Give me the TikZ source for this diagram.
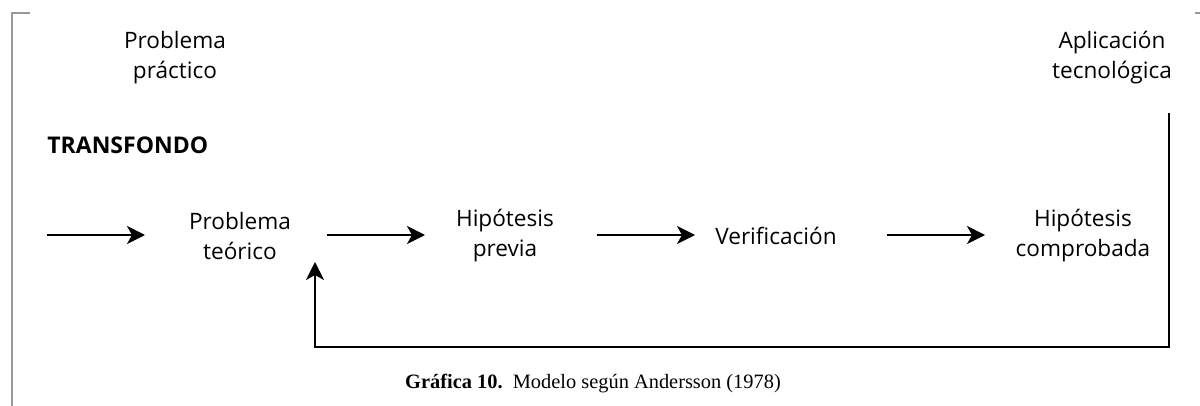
\documentclass[tikz,border=0pt]{standalone}
\usepackage{fontspec}
\setmainfont{Open Sans}
\newfontfamily\capfont{Liberation Serif}
\usetikzlibrary{arrows.meta}
\begin{document}
\begin{tikzpicture}[x=0.5pt,y=-0.5pt,
  lbl/.style={font=\fontsize{11.3}{15}\selectfont, align=center, inner sep=0pt},
  arr/.style={line width=1pt, -{Stealth[length=9pt,width=9pt,inset=2.5pt]}},
  frame/.style={draw=gray!80, line width=0.8pt}]
\useasboundingbox (0,0) rectangle (1200,406);
% frame
\draw[frame] (30,13) -- (12,13) -- (12,406);
\draw[frame] (1195,13) -- (1200,13);
% top labels
\node[lbl] (pp) at (175,58) {Problema\\práctico};
\node[lbl] (at) at (1112,58) {Aplicación\\tecnológica};
\node[font=\fontsize{11.5}{15}\selectfont\bfseries, anchor=west, inner sep=0pt] (tr) at (47,145) {TRANSFONDO};
% row
\coordinate (s) at (47,235);
\node[lbl] (pt) at (240,236) {Problema\\teórico};
\node[lbl] (hp) at (505,236) {Hipótesis\\previa};
\node[lbl] (ve) at (776,236) {Verificación};
\node[lbl] (hc) at (1083,236) {Hipótesis\\comprobada};
\draw[arr] (s) -- (145,235);
\draw[arr] (327,235) -- (425,235);
\draw[arr] (597,235) -- (695,235);
\draw[arr] (887,235) -- (985,235);
% feedback
\coordinate (r1) at (1169,113);
\coordinate (r2) at (1169,347);
\coordinate (l1) at (315,347);
\draw[arr] (r1) -- (r2) -- (l1) -- (315,262);
% caption
\node[font=\capfont\fontsize{10.2}{12}\selectfont, inner sep=0pt] (cap) at (593,384) {\textbf{Gráfica 10.}\ \ Modelo según Andersson (1978)};
\end{tikzpicture}
\end{document}
